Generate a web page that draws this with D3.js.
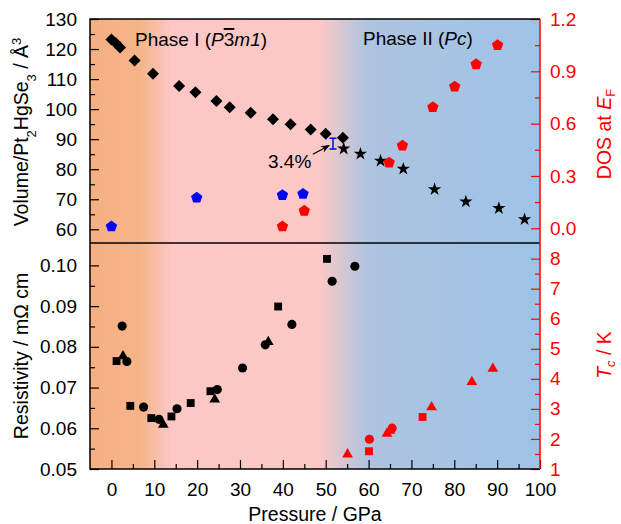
<!DOCTYPE html>
<meta charset="utf-8">
<style>
  body { margin: 0; background: #fff; }
  svg text { font-family: "Liberation Sans", Arial, sans-serif; }
</style>
<script src="https://d3js.org/d3.v7.min.js"></script>
<div id="chart"></div>
<script>
// pressure (GPa) vs volume, phase I (diamonds) and phase II (stars)
var volPhase1 = [[0,123.2],[1,122],[2,120.5],[5.4,116.2],[9.7,111.8],[15.8,107.7],[19.6,105.6],
  [24.5,102.7],[27.6,100.6],[32.5,98.8],[37.7,96.6],[41.8,95.0],[46.5,93.2],[50,91.8],[54,90.5]];
var volPhase2 = [[54.2,86.8],[58.1,85.1],[62.8,82.8],[68.1,80.1],[75.4,73.3],[82.7,69.2],[90.4,67.0],[96.4,63.3]];
var volGap = [51.7, 86.7, 90.3];   // pressure, low, high of the 3.4% drop
// DOS at E_F
var dosBlue = [[0,0.01],[19.9,0.175],[39.9,0.19],[44.7,0.197]];
var dosRed = [[39.9,0.01],[45,0.1],[64.8,0.376],[67.9,0.474],[75,0.694],[80.1,0.812],[85.1,0.94],[90.1,1.05]];
// resistivity, three runs
var resCircle = [[2.5,0.0851],[3.6,0.0764],[7.5,0.0652],[11.1,0.0622],[15.3,0.0648],[24.7,0.0695],
  [30.6,0.0748],[35.9,0.0805],[42.1,0.0855],[51.5,0.0961],[56.8,0.0998]];
var resSquare = [[1.2,0.0765],[4.4,0.0655],[9.3,0.0625],[14.0,0.0629],[18.5,0.0662],[23.1,0.0691],[38.9,0.0899],[50.3,0.1016]];
var resTriangle = [[2.7,0.0777],[12.1,0.0609],[24.1,0.0671],[36.6,0.0812]];
// Tc, three runs
var tcCircle = [[60.2,1.99],[65.5,2.36]];
var tcSquare = [[60.1,1.59],[72.6,2.73]];
var tcTriangle = [[55.1,1.49],[64.3,2.18],[65,2.28],[74.7,3.06],[84.1,3.9],[89,4.34]];

var xTicks = d3.range(0, 101, 10), xMinor = d3.range(5, 100, 10);
var volTicks = d3.range(60, 131, 10), volMinor = d3.range(65, 130, 10);
var dosTicks = [0, 0.3, 0.6, 0.9, 1.2], dosMinor = [0.15, 0.45, 0.75, 1.05];
var resTicks = [0.05, 0.06, 0.07, 0.08, 0.09, 0.10], resMinor = [0.055, 0.065, 0.075, 0.085, 0.095];
var tcTicks = d3.range(1, 9), tcMinor = [1.5, 2.5, 3.5, 4.5, 5.5, 6.5, 7.5];

var W = 621, H = 524, pL = 90, pR = 540, pT = 19, pM = 243, pB = 469;
var RED = "#ff0000", BLUE = "#0000ff";

var svg = d3.select("#chart").append("svg").attr("width", W).attr("height", H);

var x = d3.scaleLinear().domain([-5, 100]).range([pL, pR]);
var yV = d3.scaleLinear().domain([55.44, 130]).range([pM, pT]);
var yD = d3.scaleLinear().domain([-0.0845, 1.2]).range([pM, pT]);
var yR = d3.scaleLinear().domain([0.05, 0.1055]).range([pB, pM]);
var yT = d3.scaleLinear().domain([1, 8.52]).range([pB, pM]);

// background gradient
var defs = svg.append("defs");
var grad = defs.append("linearGradient").attr("id", "bg")
  .attr("gradientUnits", "userSpaceOnUse").attr("x1", pL).attr("x2", pR).attr("y1", 0).attr("y2", 0);
[[0, "#f4b084"], [0.11, "#f5b488"], [0.18, "#fcc7c4"], [0.51, "#fcc9c7"], [0.615, "#aec4e0"], [1, "#9ec3e7"]]
  .forEach(function(s) { grad.append("stop").attr("offset", s[0]).attr("stop-color", s[1]); });
defs.append("marker").attr("id", "arrow").attr("viewBox", "0 0 10 10").attr("refX", 9).attr("refY", 5)
  .attr("markerWidth", 9).attr("markerHeight", 9).attr("orient", "auto").attr("markerUnits", "userSpaceOnUse")
  .append("path").attr("d", "M0,1 L10,5 L0,9 L3,5 Z").attr("fill", "#000");

svg.append("rect").attr("x", pL).attr("y", pT).attr("width", pR - pL).attr("height", pB - pT)
  .attr("fill", "url(#bg)");

// pentagon symbol
var pentagon = {
  draw: function(ctx, size) {
    var r = Math.sqrt(size / 2.3776);
    for (var i = 0; i < 5; i++) {
      var a = -Math.PI / 2 + i * 2 * Math.PI / 5;
      if (i === 0) ctx.moveTo(r * Math.cos(a), r * Math.sin(a));
      else ctx.lineTo(r * Math.cos(a), r * Math.sin(a));
    }
    ctx.closePath();
  }
};

function plot(data, ys, type, size, color, rot) {
  svg.append("g").selectAll("path").data(data).enter().append("path")
    .attr("d", d3.symbol().type(type).size(size))
    .attr("transform", function(d) { return "translate(" + x(d[0]) + "," + ys(d[1]) + ")" + (rot ? " rotate(45)" : ""); })
    .attr("fill", color);
}

plot(volPhase1, yV, d3.symbolSquare, 72, "#000", true);
plot(volPhase2, yV, d3.symbolStar, 55, "#000");
plot(dosBlue, yD, pentagon, 85, BLUE);
plot(dosRed, yD, pentagon, 85, RED);
plot(resCircle, yR, d3.symbolCircle, 66, "#000");
plot(resSquare, yR, d3.symbolSquare, 62, "#000");
plot(resTriangle, yR, d3.symbolTriangle, 50, "#000");
plot(tcCircle, yT, d3.symbolCircle, 66, RED);
plot(tcSquare, yT, d3.symbolSquare, 62, RED);
plot(tcTriangle, yT, d3.symbolTriangle, 50, RED);

// 3.4% volume drop bar
var gx = x(volGap[0]);
svg.append("path")
  .attr("d", "M" + (gx - 3.5) + "," + yV(volGap[2]) + "H" + (gx + 3.5) +
    "M" + gx + "," + yV(volGap[2]) + "V" + yV(volGap[1]) +
    "M" + (gx - 3.5) + "," + yV(volGap[1]) + "H" + (gx + 3.5))
  .attr("stroke", BLUE).attr("stroke-width", 1.5).attr("fill", "none");
svg.append("line")
  .attr("x1", x(47.0)).attr("y1", yV(85.0)).attr("x2", x(50.8)).attr("y2", yV(87.9))
  .attr("stroke", "#000").attr("stroke-width", 1.2).attr("marker-end", "url(#arrow)");
svg.append("text").attr("x", 268).attr("y", 168).attr("font-size", 19).text("3.4%");

// phase labels
var t1 = svg.append("text").attr("x", 135).attr("y", 46).attr("font-size", 19);
t1.append("tspan").text("Phase I (");
t1.append("tspan").attr("font-style", "italic").text("P");
t1.append("tspan").style("text-decoration", "overline").text("3");
t1.append("tspan").attr("font-style", "italic").text("m1");
t1.append("tspan").text(")");
var t2 = svg.append("text").attr("x", 363).attr("y", 45).attr("font-size", 19);
t2.append("tspan").text("Phase II (");
t2.append("tspan").attr("font-style", "italic").text("Pc");
t2.append("tspan").text(")");

// axes
function styleAxis(g, color) {
  g.select(".domain").remove();
  g.selectAll("line").attr("stroke", color).attr("stroke-width", 1.2);
  g.selectAll("text").attr("fill", color).attr("font-size", 19)
    .attr("font-family", '"Liberation Sans", Arial, sans-serif');
}
function axis(gen, ticks, fmt, size, pad, tr, color) {
  svg.append("g").attr("transform", tr)
    .call(gen.tickValues(ticks).tickSize(-size).tickPadding(pad).tickFormat(fmt))
    .call(styleAxis, color);
}
var none = function() { return ""; };
axis(d3.axisBottom(x), xTicks, d3.format("d"), 9, 14, "translate(0," + pB + ")", "#000");
axis(d3.axisBottom(x), xMinor, none, 5, 14, "translate(0," + pB + ")", "#000");
axis(d3.axisLeft(yV), volTicks, d3.format("d"), 9, 13, "translate(" + pL + ",0)", "#000");
axis(d3.axisLeft(yV), volMinor, none, 5, 13, "translate(" + pL + ",0)", "#000");
axis(d3.axisLeft(yR), resTicks, d3.format(".2f"), 9, 13, "translate(" + pL + ",0)", "#000");
axis(d3.axisLeft(yR), resMinor, none, 5, 13, "translate(" + pL + ",0)", "#000");
axis(d3.axisRight(yD), dosTicks, d3.format(".1f"), 9, 10, "translate(" + pR + ",0)", RED);
axis(d3.axisRight(yD), dosMinor, none, 5, 10, "translate(" + pR + ",0)", RED);
axis(d3.axisRight(yT), tcTicks, d3.format("d"), 9, 10, "translate(" + pR + ",0)", RED);
axis(d3.axisRight(yT), tcMinor, none, 5, 10, "translate(" + pR + ",0)", RED);

// frame
var frame = svg.append("g").attr("stroke-width", 1.5).attr("fill", "none");
frame.append("path").attr("d", "M" + pR + "," + pT + "H" + pL + "V" + pB + "H" + pR).attr("stroke", "#000");
frame.append("line").attr("x1", pL).attr("x2", pR).attr("y1", pM).attr("y2", pM).attr("stroke", "#000");
frame.append("line").attr("x1", pR).attr("x2", pR).attr("y1", pT).attr("y2", pB).attr("stroke", RED);

// axis titles
var lt = svg.append("text").attr("transform", "translate(28,132) rotate(-90)")
  .attr("text-anchor", "middle").attr("font-size", 19.5);
lt.append("tspan").text("Volume/Pt");
lt.append("tspan").attr("font-size", 13).attr("baseline-shift", "sub").text("2");
lt.append("tspan").text("HgSe");
lt.append("tspan").attr("font-size", 13).attr("baseline-shift", "sub").text("3");
lt.append("tspan").text(" / Å");
lt.append("tspan").attr("font-size", 13).attr("baseline-shift", "super").text("3");

svg.append("text").attr("transform", "translate(28,356) rotate(-90)")
  .attr("text-anchor", "middle").attr("font-size", 19.5).text("Resistivity / mΩ cm");

var rt = svg.append("text").attr("transform", "translate(611,134) rotate(-90)")
  .attr("text-anchor", "middle").attr("font-size", 19.5).attr("fill", RED);
rt.append("tspan").text("DOS at ");
rt.append("tspan").attr("font-style", "italic").text("E");
rt.append("tspan").attr("font-size", 13).attr("dy", 4).text("F");

var tt = svg.append("text").attr("transform", "translate(611,355) rotate(-90)")
  .attr("text-anchor", "middle").attr("font-size", 19.5).attr("fill", RED);
tt.append("tspan").attr("font-style", "italic").text("T");
tt.append("tspan").attr("font-style", "italic").attr("font-size", 13).attr("dy", 4).text("c");
tt.append("tspan").attr("dy", -4).text(" / K");

svg.append("text").attr("x", (pL + pR) / 2).attr("y", 521).attr("text-anchor", "middle")
  .attr("font-size", 19.5).text("Pressure / GPa");
</script>
